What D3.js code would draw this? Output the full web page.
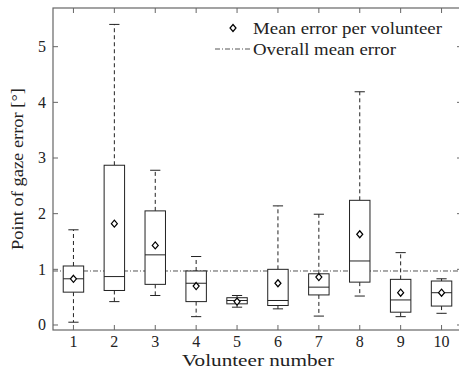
<!DOCTYPE html>
<html><head><meta charset="utf-8">
<script src="https://cdn.jsdelivr.net/npm/d3@7"></script>
<style>body{margin:0;background:#fff;}</style>
</head><body><svg id="c" width="459" height="372"></svg>
<script>
const volunteers = [1,2,3,4,5,6,7,8,9,10];
const whiskerLow  = [0.05,0.42,0.53,0.15,0.32,0.29,0.16,0.52,0.15,0.21];
const q1          = [0.59,0.62,0.73,0.42,0.38,0.35,0.54,0.77,0.23,0.34];
const median      = [0.83,0.87,1.26,0.75,0.44,0.44,0.68,1.15,0.45,0.58];
const q3          = [1.06,2.87,2.05,0.97,0.49,1.00,0.92,2.24,0.82,0.79];
const whiskerHigh = [1.71,5.40,2.78,1.23,0.53,2.14,1.99,4.19,1.30,0.83];
const meanErr     = [0.83,1.82,1.43,0.70,0.42,0.75,0.86,1.63,0.58,0.58];
const overallMean = 0.97;
const yTicks = [0,1,2,3,4,5];
const legendLabels = ["Mean error per volunteer","Overall mean error"];

const svg = d3.select("#c");
const L=53,R=462,T=8,B=330;
const x = d3.scaleLinear().domain([0.5,10.5]).range([L,R]);
const y = d3.scaleLinear().domain([-0.09,5.695]).range([B,T]);
const font = "Liberation Serif";
const axisCol = "#666";
const txtCol = "#222";
const tk = 5;

function label(sel, fs, len){
  sel.attr("font-size",fs).style("font-family",font).attr("fill",txtCol);
  if(len) sel.attr("textLength",len).attr("lengthAdjust","spacingAndGlyphs");
  return sel;
}

const g = svg.append("g");
yTicks.forEach(v=>{
  g.append("line").attr("x1",L).attr("x2",L+tk).attr("y1",y(v)).attr("y2",y(v)).attr("stroke",axisCol);
  g.append("line").attr("x1",R).attr("x2",R-tk).attr("y1",y(v)).attr("y2",y(v)).attr("stroke",axisCol);
  label(g.append("text").attr("x",L-7).attr("y",y(v)).attr("dy","0.33em").attr("text-anchor","end"),16).text(v);
});
volunteers.forEach(v=>{
  g.append("line").attr("x1",x(v)).attr("x2",x(v)).attr("y1",B).attr("y2",B-tk).attr("stroke",axisCol);
  g.append("line").attr("x1",x(v)).attr("x2",x(v)).attr("y1",T).attr("y2",T+tk).attr("stroke",axisCol);
  label(g.append("text").attr("x",x(v)).attr("y",B+16.5).attr("text-anchor","middle"),16).text(v);
});

svg.append("line").attr("x1",L).attr("x2",R).attr("y1",y(overallMean)).attr("y2",y(overallMean))
  .attr("stroke","#555").attr("stroke-width",1).attr("stroke-dasharray","5,2,1,2");

const bw = (x(1.25)-x(1));
const cw = bw/2;
const col = "#222";
volunteers.forEach((v,i)=>{
  const cx = x(v);
  const gg = svg.append("g");
  gg.append("line").attr("x1",cx).attr("x2",cx).attr("y1",y(q3[i])).attr("y2",y(whiskerHigh[i]))
    .attr("stroke",col).attr("stroke-dasharray","4,3");
  gg.append("line").attr("x1",cx).attr("x2",cx).attr("y1",y(q1[i])).attr("y2",y(whiskerLow[i]))
    .attr("stroke",col).attr("stroke-dasharray","4,3");
  gg.append("line").attr("x1",cx-cw).attr("x2",cx+cw).attr("y1",y(whiskerHigh[i])).attr("y2",y(whiskerHigh[i])).attr("stroke",col);
  gg.append("line").attr("x1",cx-cw).attr("x2",cx+cw).attr("y1",y(whiskerLow[i])).attr("y2",y(whiskerLow[i])).attr("stroke",col);
  gg.append("rect").attr("x",cx-bw).attr("width",2*bw).attr("y",y(q3[i])).attr("height",y(q1[i])-y(q3[i]))
    .attr("fill","#fff").attr("stroke",col);
  gg.append("line").attr("x1",cx-bw).attr("x2",cx+bw).attr("y1",y(median[i])).attr("y2",y(median[i])).attr("stroke",col);
  const my = y(meanErr[i]);
  gg.append("path").attr("d",`M${cx},${my-3.5}L${cx+3},${my}L${cx},${my+3.5}L${cx-3},${my}Z`)
    .attr("fill","#fff").attr("stroke","#000").attr("stroke-width",1.2);
});

svg.append("rect").attr("x",L).attr("y",T).attr("width",R-L).attr("height",B-T)
  .attr("fill","none").attr("stroke",axisCol).attr("stroke-width",1.2);

const lx = 233, ly1 = 28, ly2 = 49;
svg.append("path").attr("d",`M${lx},${ly1-3.5}L${lx+3},${ly1}L${lx},${ly1+3.5}L${lx-3},${ly1}Z`)
  .attr("fill","#fff").attr("stroke","#000").attr("stroke-width",1.2);
label(svg.append("text").attr("x",253).attr("y",ly1).attr("dy","0.33em"),17,189).text(legendLabels[0]);
svg.append("line").attr("x1",215).attr("x2",251).attr("y1",ly2).attr("y2",ly2)
  .attr("stroke","#555").attr("stroke-dasharray","5,2,1,2");
label(svg.append("text").attr("x",253).attr("y",ly2).attr("dy","0.33em"),17,143).text(legendLabels[1]);

label(svg.append("text").attr("x",182).attr("y",365.5),16.5,152).text("Volunteer number");
label(svg.append("text").attr("transform",`translate(22.5,250)rotate(-90)`),17,162).text("Point of gaze error [°]");
</script></body></html>
